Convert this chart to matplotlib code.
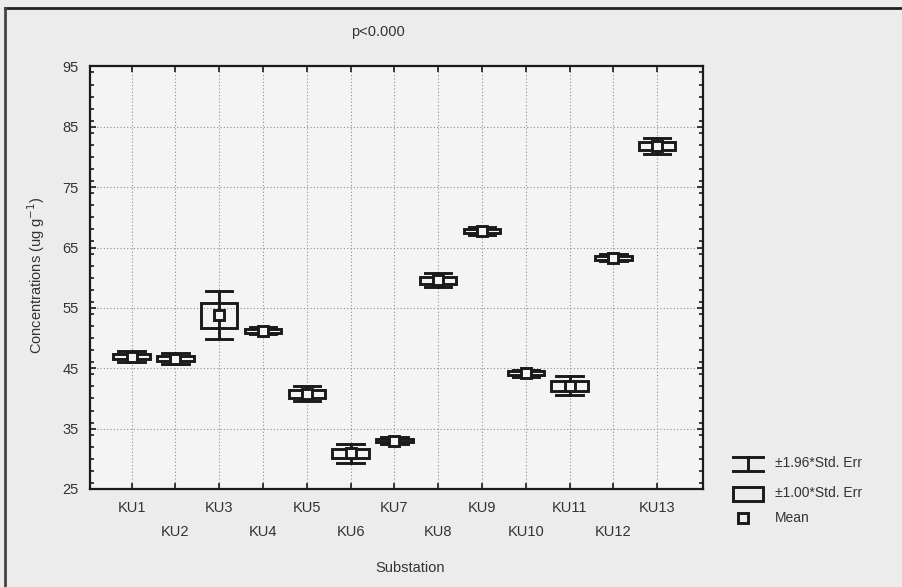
import numpy as np
import matplotlib
matplotlib.use("Agg")
from matplotlib import pyplot as plt
from matplotlib.patches import Rectangle
from matplotlib.lines import Line2D
from matplotlib.ticker import MultipleLocator

plt.rcParams["font.family"] = ["Liberation Sans", "DejaVu Sans"]

# ---- data ----
labels = ["KU1", "KU2", "KU3", "KU4", "KU5", "KU6", "KU7",
          "KU8", "KU9", "KU10", "KU11", "KU12", "KU13"]
means = [46.9, 46.6, 53.8, 51.2, 40.8, 30.9, 33.0,
         59.6, 67.7, 44.2, 42.1, 63.3, 81.8]
std_err = [0.45, 0.45, 2.05, 0.3, 0.65, 0.8, 0.3,
           0.6, 0.35, 0.3, 0.8, 0.3, 0.65]
yticks = [25, 35, 45, 55, 65, 75, 85, 95]

ink = "#1a1a1a"
txt = "#333333"

fig = plt.figure(figsize=(9.03, 5.87), dpi=100, facecolor="#ececec")
ax = fig.add_axes([0.0997, 0.167, 0.679, 0.7198])
ax.set_facecolor("#f4f4f4")

x = np.arange(1, len(labels) + 1)
box_w = 0.83
cap_w = 0.6
lw = 2.1
for xi, m, s in zip(x, means, std_err):
    lo, hi = m - 1.96 * s, m + 1.96 * s
    # whisker
    ax.plot([xi, xi], [lo, hi], color=ink, lw=lw, zorder=3)
    ax.plot([xi - cap_w / 2, xi + cap_w / 2], [hi, hi], color=ink, lw=lw, zorder=3)
    ax.plot([xi - cap_w / 2, xi + cap_w / 2], [lo, lo], color=ink, lw=lw, zorder=3)
    # box
    ax.add_patch(Rectangle((xi - box_w / 2, m - s), box_w, 2 * s,
                           facecolor="none", edgecolor=ink, lw=lw, zorder=4))
    # mean
    ax.plot(xi, m, marker="s", ms=7, mfc="#f4f4f4", mec=ink, mew=lw, zorder=5)

ax.set_xlim(0.05, 14.05)
ax.set_ylim(25, 95)
ax.set_xticks(x)
ax.set_xticklabels([])
ax.set_yticks(yticks)
ax.yaxis.set_minor_locator(MultipleLocator(2))
ax.tick_params(axis="both", which="both", direction="in", top=True, right=True,
               color=ink, width=1.2)
ax.tick_params(axis="both", which="major", length=4)
ax.tick_params(axis="y", which="minor", length=3)
ax.tick_params(axis="y", labelsize=10.5, labelcolor=txt, pad=8)
ax.grid(True, which="major", color="#8f8f8f", ls=(0, (1, 2)), lw=0.8)
for sp in ax.spines.values():
    sp.set_color(ink)
    sp.set_linewidth(1.6)

# staggered category labels
for i, (xi, lab) in enumerate(zip(x, labels)):
    dy = -0.046 if i % 2 == 0 else -0.102
    ax.text(xi, dy, lab, transform=ax.get_xaxis_transform(), ha="center",
            va="center", fontsize=10.5, color=txt)

fig.text(410 / 903, 1 - 568 / 587, "Substation", ha="center", va="center",
         fontsize=10.5, color=txt)
fig.text(36 / 903, 1 - 275 / 587, r"Concentrations (ug g$^{-1}$)", ha="center",
         va="center", rotation=90, fontsize=10.5, color=txt)
fig.text(378 / 903, 1 - 32 / 587, "p<0.000", ha="center", va="center",
         fontsize=10.5, color=txt)

# legend drawn in a figure-pixel axes
lg = fig.add_axes([0, 0, 1, 1], facecolor="none")
lg.set_xlim(0, 903)
lg.set_ylim(587, 0)
lg.axis("off")
lg.add_line(Line2D([733, 763], [457, 457], color=ink, lw=lw))
lg.add_line(Line2D([733, 763], [470.5, 470.5], color=ink, lw=lw))
lg.add_line(Line2D([748, 748], [457, 470.5], color=ink, lw=lw))
lg.add_patch(Rectangle((733, 487), 30, 13.5, facecolor="none", edgecolor=ink, lw=lw))
lg.plot(743, 518, marker="s", ms=7, mfc="#ececec", mec=ink, mew=lw)
lg.text(775, 463, "±1.96*Std. Err", va="center", fontsize=10, color=txt)
lg.text(775, 493, "±1.00*Std. Err", va="center", fontsize=10, color=txt)
lg.text(775, 518, "Mean", va="center", fontsize=10, color=txt)

# outer frame
lg.add_line(Line2D([5, 903], [8, 8], color="#222222", lw=2))
lg.add_line(Line2D([5, 5], [8, 587], color="#444444", lw=2))

fig.savefig("out.png", dpi=100, facecolor=fig.get_facecolor())
